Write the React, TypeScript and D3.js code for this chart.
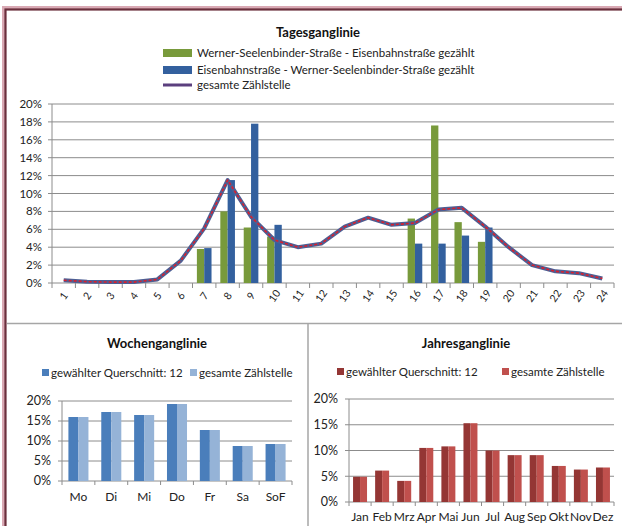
import React from "react";
import * as d3 from "d3";

const hours = Array.from({ length: 24 }, (_, i) => String(i + 1));
const greenVals: (number | null)[] = [null, null, null, null, null, null, 3.8, 8.0, 6.2, 5.2, null, null, null, null, null, 7.2, 17.6, 6.8, 4.6, null, null, null, null, null];
const blueVals: (number | null)[] = [null, null, null, null, null, null, 3.9, 11.5, 17.8, 6.5, null, null, null, null, null, 4.4, 4.4, 5.3, 6.2, null, null, null, null, null];
const totalVals = [0.3, 0.15, 0.1, 0.1, 0.4, 2.5, 6.1, 11.5, 7.4, 4.8, 4.0, 4.4, 6.3, 7.3, 6.5, 6.7, 8.2, 8.4, 6.3, 4.0, 2.0, 1.3, 1.1, 0.5];
const dayTicks = [0, 2, 4, 6, 8, 10, 12, 14, 16, 18, 20];

const days = ["Mo", "Di", "Mi", "Do", "Fr", "Sa", "SoF"];
const weekSel = [16.0, 17.25, 16.5, 19.25, 12.75, 8.75, 9.25];
const weekAll = [16.0, 17.25, 16.5, 19.25, 12.75, 8.75, 9.25];

const months = ["Jan", "Feb", "Mrz", "Apr", "Mai", "Jun", "Jul", "Aug", "Sep", "Okt", "Nov", "Dez"];
const yearSel = [4.9, 6.1, 4.1, 10.5, 10.8, 15.3, 10.0, 9.1, 9.1, 7.0, 6.3, 6.7];
const yearAll = [4.9, 6.1, 4.1, 10.5, 10.8, 15.3, 10.0, 9.1, 9.1, 7.0, 6.3, 6.7];
const bottomTicks = [0, 5, 10, 15, 20];

const FONT = "Lato, 'Open Sans', sans-serif";
const GRID = "#8c8c8c";

function BarPanel(props: {
  cats: string[];
  a: number[];
  b: number[];
  colA: string;
  colB: string;
  x0: number;
  x1: number;
  yTop: number;
  yBot: number;
  pad: number;
  labelY: number;
}) {
  const { cats, a, b, colA, colB, x0, x1, yTop, yBot, pad, labelY } = props;
  const x = d3.scaleBand<string>().domain(cats).range([x0, x1]).padding(0);
  const inner = d3.scaleBand<string>().domain(["a", "b"]).range([0, x.bandwidth()]).paddingInner(0).paddingOuter(pad);
  const y = d3.scaleLinear().domain([0, 20]).range([yBot, yTop]);
  return (
    <g>
      {bottomTicks.map((t) => (
        <g key={t}>
          <line x1={x0} x2={x1} y1={y(t)} y2={y(t)} stroke={GRID} strokeWidth={1} />
          <line x1={x0 - 4} x2={x0} y1={y(t)} y2={y(t)} stroke={GRID} />
          <text x={x0 - 11} y={y(t)} dy="0.35em" textAnchor="end" fontSize={12.5} fontFamily={FONT} fill="#222">
            {t + "%"}
          </text>
        </g>
      ))}
      <line x1={x0} x2={x0} y1={yTop} y2={yBot} stroke={GRID} />
      {cats.map((c, i) => (
        <g key={c}>
          <rect x={(x(c) as number) + (inner("a") as number)} y={y(a[i])} width={inner.bandwidth()} height={yBot - y(a[i])} fill={colA} />
          <rect x={(x(c) as number) + (inner("b") as number)} y={y(b[i])} width={inner.bandwidth()} height={yBot - y(b[i])} fill={colB} />
          <text x={(x(c) as number) + x.bandwidth() / 2} y={labelY} dy="0.35em" textAnchor="middle" fontSize={12} fontFamily={FONT} fill="#222">
            {c}
          </text>
        </g>
      ))}
      {cats.concat([""]).map((c, i) => {
        const xx = x0 + i * x.step();
        return <line key={"t" + i} x1={xx} x2={xx} y1={yBot} y2={yBot + 4} stroke={GRID} />;
      })}
    </g>
  );
}

export default function App() {
  // Top chart
  const tx0 = 52, tx1 = 614, tyTop = 104, tyBot = 283;
  const x = d3.scaleBand<string>().domain(hours).range([tx0, tx1]).padding(0);
  const inner = d3.scaleBand<string>().domain(["g", "b"]).range([0, x.bandwidth()]).paddingInner(0).paddingOuter(0.6);
  const y = d3.scaleLinear().domain([0, 20]).range([tyBot, tyTop]);
  const line = d3
    .line<number>()
    .x((_, i) => (x(hours[i]) as number) + x.bandwidth() / 2)
    .y((d) => y(d));
  const path = line(totalVals) || "";

  return (
    <svg width={622} height={526} style={{ position: "absolute", left: 0, top: 0, background: "#fff" }}>
      <rect x={0} y={0} width={622} height={526} fill="#fff" />
      {/* frame */}
      <rect x={4} y={8} width={640} height={540} fill="none" stroke="#d9a9b4" strokeWidth={4} />
      <rect x={5.5} y={9.5} width={640} height={540} fill="none" stroke="#6b2f3d" strokeWidth={2.2} />
      <line x1={7} x2={622} y1={323.5} y2={323.5} stroke="#a6a6a6" strokeWidth={1.5} />
      <line x1={308} x2={308} y1={323.5} y2={526} stroke="#a6a6a6" strokeWidth={1.5} />

      {/* Top chart */}
      <text x={318} y={32} dy="0.35em" textAnchor="middle" fontSize={13} fontWeight="bold" fontFamily={FONT} fill="#111">
        Tagesganglinie
      </text>
      <rect x={163} y={49} width={29} height={8} fill="#789a3b" />
      <text x={197} y={53} dy="0.35em" fontSize={11.5} fontFamily={FONT} fill="#222">
        Werner-Seelenbinder-Straße - Eisenbahnstraße gezählt
      </text>
      <rect x={163} y={66} width={29} height={8} fill="#33609e" />
      <text x={197} y={70} dy="0.35em" fontSize={11.5} fontFamily={FONT} fill="#222">
        Eisenbahnstraße - Werner-Seelenbinder-Straße gezählt
      </text>
      <line x1={163} x2={192} y1={85} y2={85} stroke="#5b3f7e" strokeWidth={3} />
      <text x={197} y={85} dy="0.35em" fontSize={11.5} fontFamily={FONT} fill="#222">
        gesamte Zählstelle
      </text>

      {dayTicks.map((t) => (
        <g key={t}>
          <line x1={tx0} x2={tx1} y1={y(t)} y2={y(t)} stroke={GRID} strokeWidth={1} />
          <line x1={tx0 - 4} x2={tx0} y1={y(t)} y2={y(t)} stroke={GRID} />
          <text x={42} y={y(t)} dy="0.35em" textAnchor="end" fontSize={11.5} fontFamily={FONT} fill="#222">
            {t + "%"}
          </text>
        </g>
      ))}
      <line x1={tx0} x2={tx0} y1={tyTop} y2={tyBot} stroke={GRID} />
      {hours.map((h, i) => (
        <g key={h}>
          {greenVals[i] != null && (
            <rect x={(x(h) as number) + (inner("g") as number)} y={y(greenVals[i] as number)} width={inner.bandwidth()} height={tyBot - y(greenVals[i] as number)} fill="#789a3b" />
          )}
          {blueVals[i] != null && (
            <rect x={(x(h) as number) + (inner("b") as number)} y={y(blueVals[i] as number)} width={inner.bandwidth()} height={tyBot - y(blueVals[i] as number)} fill="#33609e" />
          )}
        </g>
      ))}
      {hours.concat([""]).map((_, i) => {
        const xx = tx0 + i * x.step();
        return <line key={"xt" + i} x1={xx} x2={xx} y1={tyBot} y2={tyBot + 5} stroke={GRID} />;
      })}
      <path d={path} fill="none" stroke="#4d5f94" strokeWidth={4} strokeLinejoin="round" />
      <path d={path} fill="none" stroke="#d8202e" strokeWidth={1.6} strokeDasharray="3,2" strokeLinejoin="round" />
      {hours.map((h) => {
        const cx = (x(h) as number) + x.bandwidth() / 2;
        return (
          <text key={"l" + h} transform={`translate(${cx},${296}) rotate(-55)`} textAnchor="middle" dy="0.35em" fontSize={10.5} fontFamily={FONT} fill="#222">
            {h}
          </text>
        );
      })}

      {/* Bottom-left */}
      <text x={157} y={343} dy="0.35em" textAnchor="middle" fontSize={13} fontWeight="bold" fontFamily={FONT} fill="#111">
        Wochenganglinie
      </text>
      <rect x={42} y={369} width={7} height={7} fill="#4a7ebb" />
      <text x={51} y={373} dy="0.35em" fontSize={11.5} fontFamily={FONT} fill="#222">
        gewählter Querschnitt: 12
      </text>
      <rect x={190} y={369} width={7} height={7} fill="#95b3d7" />
      <text x={199} y={373} dy="0.35em" fontSize={11.5} fontFamily={FONT} fill="#222">
        gesamte Zählstelle
      </text>
      <BarPanel cats={days} a={weekSel} b={weekAll} colA="#4a7ebb" colB="#95b3d7" x0={62} x1={292} yTop={401} yBot={481} pad={0.64} labelY={497} />

      {/* Bottom-right */}
      <text x={466} y={343} dy="0.35em" textAnchor="middle" fontSize={13} fontWeight="bold" fontFamily={FONT} fill="#111">
        Jahresganglinie
      </text>
      <defs>
        <clipPath id="legclip">
          <rect x={330} y={360} width={152} height={25} />
        </clipPath>
      </defs>
      <rect x={337} y={368} width={7} height={7} fill="#943634" />
      <text x={346} y={372} dy="0.35em" fontSize={11.5} fontFamily={FONT} fill="#222" clipPath="url(#legclip)">
        gewählter Querschnitt: 12
      </text>
      <rect x={502} y={368} width={7} height={7} fill="#c0504d" />
      <text x={511} y={372} dy="0.35em" fontSize={11.5} fontFamily={FONT} fill="#222">
        gesamte Zählstelle
      </text>
      <BarPanel cats={months} a={yearSel} b={yearAll} colA="#943634" colB="#c0504d" x0={349} x1={614} yTop={399} yBot={502} pad={0.58} labelY={517} />
    </svg>
  );
}
